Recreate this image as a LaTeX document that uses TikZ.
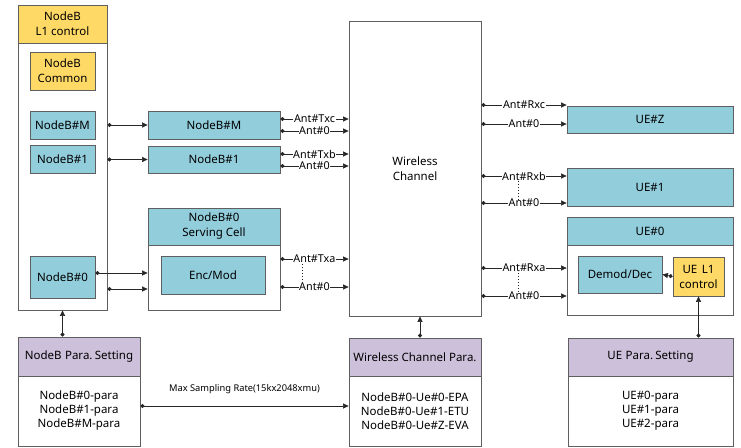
\documentclass[tikz,border=0pt]{standalone}
\usepackage{fontspec}
\setmainfont{Noto Sans}
\usetikzlibrary{arrows.meta,calc}
\definecolor{teal1}{HTML}{92CDDC}
\definecolor{gold1}{HTML}{FFD966}
\definecolor{lav1}{HTML}{CCC0DA}
\definecolor{bord}{HTML}{5F5F5F}
\definecolor{wire}{HTML}{262626}
\begin{document}
\begin{tikzpicture}[x=1pt,y=-1pt,
  box/.style={draw=bord, line width=0.8pt, inner sep=0pt, align=center, font=\fontsize{11.5}{15}\selectfont, text=black},
  tbox/.style={box, fill=teal1},
  ybox/.style={box, fill=gold1},
  pbox/.style={box, fill=lav1},
  txt/.style={inner sep=0pt, align=center, font=\fontsize{11.5}{14}\selectfont, text=black},
  conn/.style={draw=wire, line width=0.6pt, {Circle[length=4pt]}-{Triangle[length=5.5pt,width=5pt]}},
  lab/.style={fill=white, inner sep=0.6pt, font=\fontsize{10.8}{12}\selectfont, text=black},
  dotv/.style={draw=wire, line width=1pt, dotted}
]
\useasboundingbox (0,0) rectangle (741,447);
\fill[white] (0,0) rectangle (741,447);

% ---- NodeB L1 control column
\node[box, minimum width=89pt, minimum height=305pt] (l1) at (62.5,157.5) {};
\node[ybox, minimum width=89pt, minimum height=38pt] (l1h) at (62.5,24) {NodeB\\L1 control};
\node[ybox, minimum width=65pt, minimum height=38pt] (common) at (62.5,71) {NodeB\\Common};
\node[tbox, minimum width=65pt, minimum height=28pt] (sM) at (62.5,125) {NodeB\#M};
\node[tbox, minimum width=65pt, minimum height=28pt] (s1) at (62.5,159) {NodeB\#1};
\node[tbox, minimum width=65pt, minimum height=42pt] (s0) at (62.5,277) {NodeB\#0};

% ---- middle NodeB boxes
\node[tbox, minimum width=132pt, minimum height=28pt] (mM) at (214,125) {NodeB\#M};
\node[tbox, minimum width=132pt, minimum height=27pt] (m1) at (214,159.5) {NodeB\#1};
\node[box, minimum width=132pt, minimum height=102pt] (serving) at (214,259) {};
\node[tbox, minimum width=132pt, minimum height=37pt] (servingh) at (214,226.5) {NodeB\#0\\Serving Cell};
\node[tbox, minimum width=104pt, minimum height=38pt] (enc) at (213,275) {Enc/Mod};

% ---- wireless channel
\node[box, minimum width=132pt, minimum height=295pt] (wc) at (415,168.5) {Wireless\\Channel};

% ---- UEs
\node[tbox, minimum width=166pt, minimum height=27pt] (uez) at (650,119.5) {UE\#Z};
\node[tbox, minimum width=166pt, minimum height=38pt] (ue1) at (650,187) {UE\#1};
\node[box, minimum width=166pt, minimum height=98pt] (ue0) at (650,266) {};
\node[tbox, minimum width=166pt, minimum height=28pt] (ue0h) at (650,231) {UE\#0};
\node[tbox, minimum width=84pt, minimum height=37pt] (demod) at (620,274.5) {Demod/Dec};
\node[ybox, minimum width=51pt, minimum height=39pt] (uel1) at (698.5,276.5) {UE\hspace{0.4em}L1\\control};

% ---- parameter boxes
\node[box, minimum width=122pt, minimum height=109pt] (nbp) at (79,391.5) {};
\node[pbox, minimum width=122pt, minimum height=39pt] (nbph) at (79,356.5) {NodeB\hspace{0.3em}Para.\hspace{0.2em}Setting};
\node[txt] (nbpt) at (79,411) {NodeB\#0-para\\NodeB\#1-para\\NodeB\#M-para};

\node[box, minimum width=132pt, minimum height=108pt] (wcp) at (415,392) {};
\node[pbox, minimum width=132pt, minimum height=38pt] (wcph) at (415,357) {Wireless Channel Para.};
\node[txt] (wcpt) at (415,411) {NodeB\#0-Ue\#0-EPA\\NodeB\#0-Ue\#1-ETU\\NodeB\#0-Ue\#Z-EVA};

\node[box, minimum width=165pt, minimum height=108pt] (uep) at (650.5,392) {};
\node[pbox, minimum width=165pt, minimum height=38pt] (ueph) at (650.5,357) {UE\hspace{0.3em}Para.\hspace{0.2em}Setting};
\node[txt] (uept) at (650.5,411) {UE\#0-para\\UE\#1-para\\UE\#2-para};

% ---- L1 control to NodeB boxes
\draw[conn] (l1.east |- mM.center) -- (mM.west);
\draw[conn] (l1.east |- m1.center) -- (m1.west);
\coordinate (p0) at ([yshift=4pt]s0.east);
\draw[conn] (p0) -- (serving.west |- p0);
\coordinate (p1) at (l1.east |- 0,289);
\draw[conn] (p1) -- (serving.west |- p1);

% ---- Tx antennas
\coordinate (tc) at ([yshift=6pt]mM.east);
\coordinate (t0c) at ([yshift=-6pt]mM.east);
\draw[conn] (tc) -- node[lab] {Ant\#Txc} (wc.west |- tc);
\draw[conn] (t0c) -- node[lab] {Ant\#0} (wc.west |- t0c);
\coordinate (tb) at ([yshift=5.5pt]m1.east);
\coordinate (t0b) at ([yshift=-6.5pt]m1.east);
\draw[conn] (tb) -- node[lab] {Ant\#Txb} (wc.west |- tb);
\draw[conn] (t0b) -- node[lab] {Ant\#0} (wc.west |- t0b);
\coordinate (ta) at (serving.east |- 0,259);
\coordinate (t0a) at (serving.east |- 0,287);
\draw[conn] (ta) -- node[lab] (lta) {Ant\#Txa} (wc.west |- ta);
\draw[conn] (t0a) -- node[lab] (lt0a) {Ant\#0} (wc.west |- t0a);
\draw[dotv] ([xshift=-12pt]lta.south) -- ([xshift=-12pt,yshift=-2pt]lt0a.north);

% ---- Rx antennas
\coordinate (rc) at (wc.east |- 0,105);
\coordinate (r0c) at (wc.east |- 0,124);
\draw[conn] (rc) -- node[lab] {Ant\#Rxc} (uez.west |- rc);
\draw[conn] (r0c) -- node[lab] {Ant\#0} (uez.west |- r0c);
\coordinate (rb) at (wc.east |- 0,176);
\coordinate (r0b) at (wc.east |- 0,203);
\draw[conn] (rb) -- node[lab] (lrb) {Ant\#Rxb} (ue1.west |- rb);
\draw[conn] (r0b) -- node[lab] (lr0b) {Ant\#0} (ue1.west |- r0b);
\draw[dotv] ([xshift=-6pt]lrb.south) -- ([xshift=-6pt,yshift=-2pt]lr0b.north);
\coordinate (ra) at (wc.east |- 0,268);
\coordinate (r0a) at (wc.east |- 0,296);
\draw[conn] (ra) -- node[lab] (lra) {Ant\#Rxa} (ue0.west |- ra);
\draw[conn] (r0a) -- node[lab] (lr0a) {Ant\#0} (ue0.west |- r0a);
\draw[dotv] ([xshift=-6pt]lra.south) -- ([xshift=-6pt,yshift=-2pt]lr0a.north);

% ---- UE L1 control to Demod
\draw[conn] (uel1.west) -- (demod.east);

% ---- parameter links
\draw[conn] (nbph.north -| l1.south) -- (l1.south);
\draw[conn] ([xshift=5pt]wcph.north) -- ([xshift=5pt]wc.south);
\draw[conn] (ueph.north -| uel1.south) -- (uel1.south);
\coordinate (ms) at (nbp.east |- 0,406);
\draw[conn] (ms) -- node[above=12pt, inner sep=0pt, font=\fontsize{9.3}{10}\selectfont, text=black] (mslab) {Max Sampling Rate(15kx2048xmu)} (wcp.west |- ms);
\end{tikzpicture}
\end{document}
